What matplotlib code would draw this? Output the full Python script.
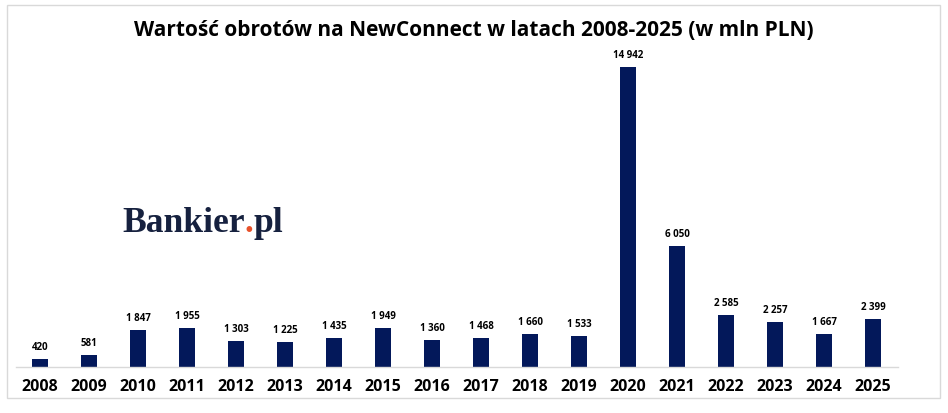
import matplotlib.pyplot as plt
from matplotlib.patches import Rectangle

years = ["2008", "2009", "2010", "2011", "2012", "2013", "2014", "2015", "2016",
         "2017", "2018", "2019", "2020", "2021", "2022", "2023", "2024", "2025"]
turnover = [420, 581, 1847, 1955, 1303, 1225, 1435, 1949, 1360,
            1468, 1660, 1533, 14942, 6050, 2585, 2257, 1667, 2399]

TITLE = "Wartość obrotów na NewConnect w latach 2008-2025 (w mln PLN)"
NAVY = "#03185a"

W, H = 948, 414
fig = plt.figure(figsize=(W / 100, H / 100), dpi=100)

# light frame around the whole chart
fig.patches.append(Rectangle((7 / W, (H - 399) / H), 933 / W, 393 / H,
                             transform=fig.transFigure, fill=False,
                             edgecolor="#d9d9d9", lw=1.0))

ax = fig.add_axes([15.5 / W, (H - 368) / H, 882 / W, 321 / H])
x = range(len(years))
ax.bar(x, turnover, width=0.33, color=NAVY)
ax.set_xlim(-0.5, len(years) - 0.5)
ax.set_ylim(0, 16000)

for xi, v in zip(x, turnover):
    ax.annotate(f"{v:,}".replace(",", " "), xy=(xi, v), xytext=(0, 5),
                textcoords="offset points", ha="center", va="bottom",
                fontsize=7, fontweight="bold", family="Open Sans")

ax.set_xticks(list(x))
ax.set_xticklabels(years, fontsize=11.5, fontweight="bold", family="Open Sans")
ax.tick_params(axis="x", length=0, pad=8)
ax.set_yticks([])
for side in ("top", "left", "right"):
    ax.spines[side].set_visible(False)
ax.spines["bottom"].set_color("#d9d9d9")
ax.spines["bottom"].set_linewidth(1.0)

fig.text(0.5, (H - 30) / H, TITLE, ha="center", va="center",
         fontsize=15, fontweight="bold", family="Open Sans")

# Bankier.pl logo as three consecutive texts, sized to ~158 px wide
fig.canvas.draw()
r = fig.canvas.get_renderer()
lx, ly = 122 / W, (H - 232) / H
logo_kw = dict(fontweight="bold", family="Liberation Serif", va="baseline")
probe = fig.text(lx, ly, "Bankier.pl", fontsize=24, **logo_kw)
fs = 24 * 158 / probe.get_window_extent(r).width
probe.remove()
pos = lx
for part, col in (("Bankier", "#16213f"), (".", "#e8512a"), ("pl", "#16213f")):
    t = fig.text(pos, ly, part, fontsize=fs, color=col, **logo_kw)
    pos = t.get_window_extent(r).x1 / W

fig.savefig("out.png", dpi=100)
